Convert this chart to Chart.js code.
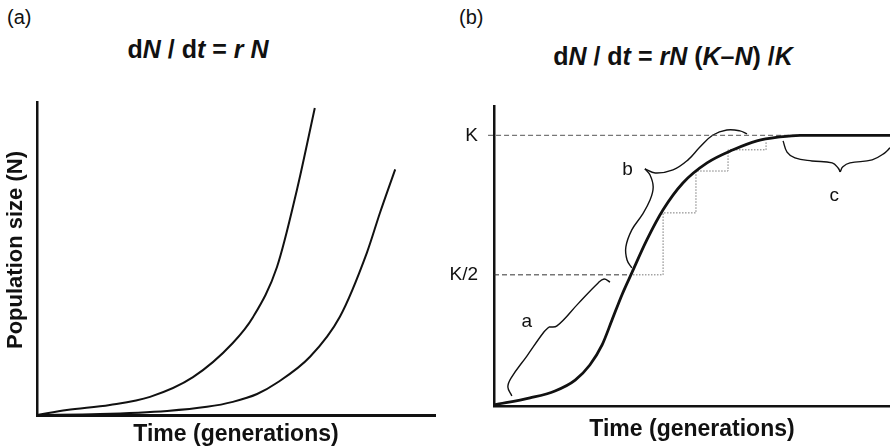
<!DOCTYPE html>
<html>
<head>
<meta charset="utf-8">
<script src="https://cdn.jsdelivr.net/npm/chart.js@4.4.1/dist/chart.umd.min.js"></script>
<style>
  html, body { margin: 0; padding: 0; background: #fff; }
  body { width: 890px; height: 448px; position: relative; overflow: hidden;
         font-family: "Liberation Sans", Arial, sans-serif; color: #111; }
  .panel { position: absolute; top: 0; width: 445px; height: 448px; }
  .tag { position: absolute; font-size: 20px; line-height: 1; }
  .eq { position: absolute; width: 300px; text-align: center; font-size: 25px;
        font-weight: bold; line-height: 1; white-space: nowrap; }
</style>
</head>
<body>
<div class="tag" style="left:7px; top:7px;">(a)</div>
<div class="tag" style="left:459px; top:7px;">(b)</div>
<div class="eq" style="left:48px; top:37px;">d<i>N</i> / d<i>t</i> = <i>r N</i></div>
<div class="eq" style="left:523px; top:44px;">d<i>N</i> / d<i>t</i> = <i>rN</i> (<i>K</i>–<i>N</i>) /<i>K</i></div>
<div class="panel" style="left:0"><canvas id="chartExp" width="445" height="448"></canvas></div>
<div class="panel" style="left:445px"><canvas id="chartLog" width="445" height="448"></canvas></div>

<script>
// --- Panel (a): crecimiento exponencial, dos curvas ---
const tiempoA1 = [0, 7.5, 18.3, 28.4, 39.2, 49.2, 54.3, 60.3, 65.3, 69.8];
const poblacionA1 = [0, 1.6, 3.2, 5.8, 12.1, 23.0, 31.3, 47.3, 71.9, 98.1];
const tiempoA2 = [0, 15.8, 32.7, 42.7, 49.2, 55.3, 60.3, 68.6, 76.1, 82.9, 86.2, 90.0];
const poblacionA2 = [0, 0.3, 1.3, 2.6, 4.2, 6.7, 10.3, 18.6, 31.4, 51.9, 64.7, 78.5];

// --- Panel (b): crecimiento logistico ---
const tiempoB = [0, 9.1, 15.4, 20.5, 24.2, 27.3, 29.8, 32.3, 34.8, 38.6, 42.7, 47.7, 53.8, 60.4, 66.4, 72.2, 77.3, 100];
const poblacionB = [3.4, 5.9, 8.4, 12.3, 17.7, 24.9, 33.8, 42.8, 50.7, 62.5, 73.3, 82.9, 90.1, 94.8, 98.0, 99.4, 100, 100];

// marcas del eje y
const valoresMarcas = [50, 100];
const etiquetasMarcas = ['K/2', 'K'];

// lineas de referencia K y K/2
const lineaKX = [-1.5, 93.2];
const lineaKY = [100, 100];
const lineaMitadX = [0, 34.6];
const lineaMitadY = [50, 50];

// escalera punteada
const escaleraX = [35.1, 42.7, 51.0, 59.1, 68.7];
const escaleraY = [50, 72.2, 87.2, 94.8, 97.6];

// llaves (cada una en dos mitades, desde la punta)
const llaveAInfX = [13.9, 12.6, 8.3, 4.3, 3.5, 4.5];
const llaveAInfY = [31.3, 29.5, 20.9, 13.0, 9.8, 6.6];
const llaveASupX = [13.9, 15.9, 21.2, 26.3, 27.8, 29.3];
const llaveASupY = [31.3, 31.7, 39.6, 47.1, 48.5, 47.4];
const llaveBInfX = [38.1, 39.4, 40.2, 39.4, 37.4, 34.8, 33.3, 33.6, 34.8];
const llaveBInfY = [88.0, 85.8, 81.5, 76.8, 71.5, 66.1, 60.0, 55.3, 52.5];
const llaveBSupX = [38.1, 40.7, 45.2, 49.0, 52.0, 55.3, 58.8, 62.1, 63.9];
const llaveBSupY = [88.0, 86.5, 87.6, 91.2, 95.8, 100.1, 101.9, 101.6, 100.5];
const llaveCIzqX = [87.4, 86.9, 85.4, 80.3, 76.0, 74.0, 73.0];
const llaveCIzqY = [86.9, 88.3, 90.1, 90.8, 91.9, 94.0, 98.0];
const llaveCDerX = [87.4, 88.1, 89.9, 95.5, 98.7, 100];
const llaveCDerY = [86.9, 88.7, 90.1, 91.2, 93.7, 95.5];

// etiquetas de las llaves
const letrasLlaves = ['a', 'b', 'c'];
const letrasX = [8.3, 33.7, 85.9];
const letrasY = [33.1, 87.8, 78.4];

const FAMILIA = '"Liberation Sans", Arial, sans-serif';
const NEGRO = '#111';

function pares(xs, ys) {
    return xs.map((x, i) => ({ x: x, y: ys[i] }));
}

// dibuja texto libre (en pixeles o en valores de datos)
const textoLibre = {
    id: 'textoLibre',
    afterDatasetsDraw(chart, args, opts) {
        const ctx = chart.ctx;
        (opts.items || []).forEach(it => {
            let x = it.x, y = it.y;
            if (it.datos) {
                x = chart.scales.x.getPixelForValue(it.x);
                y = chart.scales.y.getPixelForValue(it.y);
            }
            ctx.save();
            ctx.font = it.font;
            ctx.fillStyle = NEGRO;
            ctx.textAlign = 'center';
            ctx.textBaseline = it.baseline || 'middle';
            ctx.translate(x, y);
            if (it.rotation) ctx.rotate(it.rotation);
            ctx.fillText(it.text, 0, 0);
            ctx.restore();
        });
    }
};

const opcionesBase = {
    responsive: false,
    animation: false,
    devicePixelRatio: 1,
    elements: { point: { radius: 0 } },
    events: []
};

function linea(xs, ys, extra) {
    return Object.assign({
        data: pares(xs, ys),
        borderColor: NEGRO,
        borderWidth: 1.4,
        tension: 0.4,
        fill: false
    }, extra || {});
}

// ---------- Panel (a) ----------
new Chart(document.getElementById('chartExp'), {
    type: 'line',
    data: {
        datasets: [
            linea(tiempoA1, poblacionA1, { borderWidth: 2, cubicInterpolationMode: 'monotone' }),
            linea(tiempoA2, poblacionA2, { borderWidth: 2, cubicInterpolationMode: 'monotone' })
        ]
    },
    options: Object.assign({}, opcionesBase, {
        layout: { padding: { top: 102, right: 10, left: 0, bottom: 0 } },
        plugins: {
            legend: { display: false },
            tooltip: { enabled: false },
            textoLibre: {
                items: [{
                    text: 'Population size (N)', x: 21.5, y: 250,
                    font: 'bold 22px ' + FAMILIA, rotation: -Math.PI / 2, baseline: 'alphabetic'
                }]
            }
        },
        scales: {
            x: {
                type: 'linear', min: 0, max: 100,
                ticks: { display: false },
                grid: { display: false, drawTicks: false },
                border: { display: true, color: NEGRO, width: 3 },
                title: {
                    display: true, text: 'Time (generations)', color: NEGRO,
                    font: { family: FAMILIA, size: 23, weight: 'bold', lineHeight: 1.2 },
                    padding: { top: 0, bottom: 0 }
                },
                afterFit: s => { s.height = 33; }
            },
            y: {
                type: 'linear', min: 0, max: 100,
                ticks: { display: false },
                grid: { display: false, drawTicks: false },
                border: { display: true, color: NEGRO, width: 2.5 },
                afterFit: s => { s.width = 37; }
            }
        }
    }),
    plugins: [textoLibre]
});

// ---------- Panel (b) ----------
new Chart(document.getElementById('chartLog'), {
    type: 'line',
    data: {
        datasets: [
            linea(tiempoB, poblacionB, { borderWidth: 2.8, cubicInterpolationMode: 'monotone' }),
            linea(lineaKX, lineaKY, { borderWidth: 1, borderColor: '#555', borderDash: [5, 3], tension: 0, clip: false }),
            linea(lineaMitadX, lineaMitadY, { borderWidth: 1, borderColor: '#333', borderDash: [5, 3], tension: 0 }),
            linea(escaleraX, escaleraY, { borderWidth: 1, borderColor: '#777', borderDash: [1.5, 1.5], tension: 0, stepped: 'before' }),
            linea(llaveAInfX, llaveAInfY),
            linea(llaveASupX, llaveASupY),
            linea(llaveBInfX, llaveBInfY),
            linea(llaveBSupX, llaveBSupY),
            linea(llaveCIzqX, llaveCIzqY),
            linea(llaveCDerX, llaveCDerY)
        ]
    },
    options: Object.assign({}, opcionesBase, {
        layout: { padding: { top: 106, right: 0, left: 0, bottom: 0 } },
        plugins: {
            legend: { display: false },
            tooltip: { enabled: false },
            textoLibre: {
                items: letrasLlaves.map((t, i) => ({
                    text: t, x: letrasX[i], y: letrasY[i], datos: true, font: '19px ' + FAMILIA
                }))
            }
        },
        scales: {
            x: {
                type: 'linear', min: 0, max: 100,
                ticks: { display: false },
                grid: { display: false, drawTicks: false },
                border: { display: true, color: NEGRO, width: 2.5 },
                title: {
                    display: true, text: 'Time (generations)', color: NEGRO,
                    font: { family: FAMILIA, size: 23, weight: 'bold', lineHeight: 1.2 },
                    padding: { top: 0, bottom: 5 }
                },
                afterFit: s => { s.height = 42; }
            },
            y: {
                type: 'linear', min: 3, max: 110.5,
                afterBuildTicks: s => { s.ticks = valoresMarcas.map(v => ({ value: v })); },
                ticks: {
                    autoSkip: false, padding: 16, color: NEGRO,
                    font: { family: FAMILIA, size: 19 },
                    callback: (v, i) => etiquetasMarcas[i]
                },
                grid: { display: false, drawTicks: false },
                border: { display: true, color: NEGRO, width: 2.5 },
                afterFit: s => { s.width = 49; }
            }
        }
    }),
    plugins: [textoLibre]
});
</script>
</body>
</html>
